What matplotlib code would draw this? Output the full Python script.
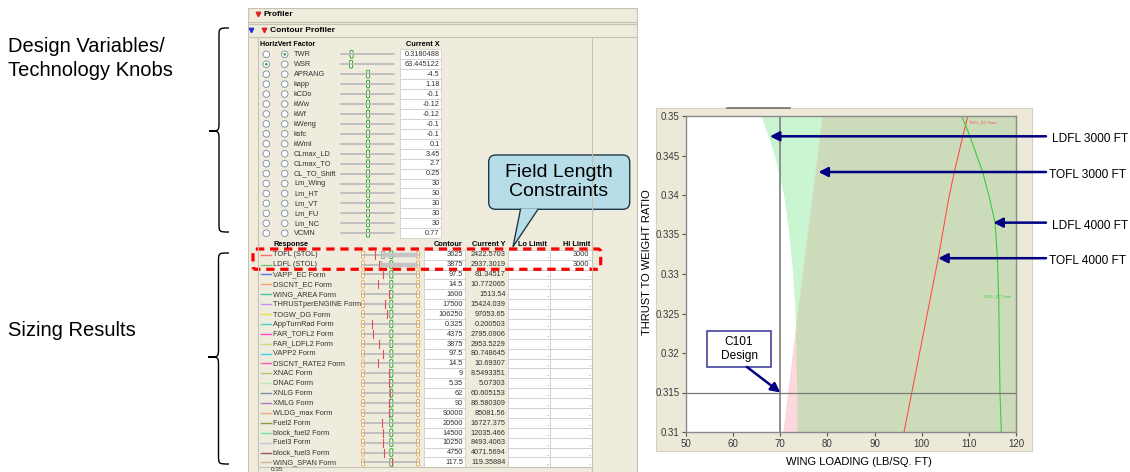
import matplotlib.pyplot as plt
import matplotlib.patches as mpatches
from matplotlib.path import Path
import numpy as np

plt.rcParams['font.family'] = ['Liberation Sans', 'DejaVu Sans']

# ---------------- data ----------------
factor_names = ['TWR', 'WSR', 'APRANG', 'kapp', 'kCDo', 'kWw', 'kWf', 'kWeng', 'ksfc',
                'kWml', 'CLmax_LD', 'CLmax_TO', 'CL_TO_Shift', 'Lm_Wing', 'Lm_HT',
                'Lm_VT', 'Lm_FU', 'Lm_NC', 'VCMN']
factor_values = ['0.3180488', '63.445122', '-4.5', '1.18', '-0.1', '-0.12', '-0.12', '-0.1',
                 '-0.1', '0.1', '3.45', '2.7', '0.25', '30', '30', '30', '30', '30', '0.77']
factor_slider = [0.2, 0.19] + [0.51] * 17   # slider position within range
horiz_factor = 'WSR'
vert_factor = 'TWR'

resp_names = ['TOFL (STOL)', 'LDFL (STOL)', 'VAPP_EC Form', 'DSCNT_EC Form', 'WING_AREA Form',
              'THRUSTperENGINE Form', 'TOGW_DG Form', 'AppTurnRad Form', 'FAR_TOFL2 Form',
              'FAR_LDFL2 Form', 'VAPP2 Form', 'DSCNT_RATE2 Form', 'XNAC Form', 'DNAC Form',
              'XNLG Form', 'XMLG Form', 'WLDG_max Form', 'Fuel2 Form', 'block_fuel2 Form',
              'Fuel3 Form', 'block_fuel3 Form', 'WING_SPAN Form']
resp_contour = ['3625', '3875', '97.5', '14.5', '1600', '17500', '106250', '0.325', '4375',
                '3875', '97.5', '14.5', '9', '5.35', '62', '90', '90000', '20500', '14500',
                '10250', '4750', '117.5']
resp_current = ['2422.5703', '2937.3019', '81.34517', '10.772065', '1513.54', '15424.039',
                '97053.65', '0.200503', '2795.0906', '2953.5229', '80.748645', '10.69307',
                '8.5493351', '5.07303', '60.605153', '86.580309', '85081.56', '16727.375',
                '12035.466', '8493.4063', '4071.5694', '119.35884']
resp_hi = ['3000', '3000'] + [''] * 20
resp_colors = ['#ff6a6a', '#70cc70', '#5a78dd', '#f0a468', '#40c4a4', '#cc8ef0', '#eadc48',
               '#44d2d2', '#ff48cc', '#c4de74', '#44c8f0', '#ff58b4', '#b8c274', '#b4e8b4',
               '#7890a8', '#b476c4', '#f0a488', '#8c9c44', '#74e2a4', '#c8c2d8', '#945474',
               '#d2b494']

wl_ticks = [50, 60, 70, 80, 90, 100, 110, 120]
tw_ticks = [0.31, 0.315, 0.32, 0.325, 0.33, 0.335, 0.34, 0.345, 0.35]

# constraint boundaries (wing loading vs thrust/weight)
cross_tw = 0.3233
ldfl3000_tw = [0.350, 0.3457, 0.3419, 0.3393, 0.3351, 0.3309, 0.3267, 0.3233, 0.310]
ldfl3000_wl = [66.05, 68.5, 70.15, 71.0, 71.9, 72.6, 73.1, 73.35, 73.7]
tofl3000_tw = [0.350, 0.3233, 0.310]
tofl3000_wl = [79.0, 73.35, 70.65]
tofl4000_tw = [0.310, 0.315, 0.332, 0.3393, 0.3429, 0.3474, 0.350]
tofl4000_wl = [96.25, 97.9, 103.5, 105.65, 106.9, 108.7, 109.8]
ldfl4000_tw = [0.310, 0.315, 0.3267, 0.332, 0.3365, 0.3393, 0.3429, 0.3474, 0.350]
ldfl4000_wl = [116.9, 116.6, 116.33, 116.05, 115.56, 114.5, 112.94, 110.25, 108.5]
design_wl, design_tw = 70, 0.315

arrow_labels = ['LDFL 3000 FT', 'TOFL 3000 FT', 'LDFL 4000 FT', 'TOFL 4000 FT']
arrow_wl = [67.8, 78.1, 115.2, 103.5]
arrow_tw = [0.34743, 0.34291, 0.3365, 0.3320]

# ---------------- figure ----------------
W, H = 1130, 472
fig = plt.figure(figsize=(W / 100, H / 100), dpi=100)
bg = fig.add_axes([0, 0, 1, 1], zorder=0)
bg.set_xlim(0, W)
bg.set_ylim(H, 0)
bg.axis('off')

# left annotations
bg.text(8, 47, 'Design Variables/', fontsize=14.5, va='center')
bg.text(8, 70, 'Technology Knobs', fontsize=14.5, va='center')
bg.text(8, 331, 'Sizing Results', fontsize=14.5, va='center')


def brace(a, x_tip, x_end, y0, y1, ym, r=9):
    xm = (x_tip + x_end) / 2
    verts = [(x_end, y0), (xm, y0), (xm, y0), (xm, y0 + r),
             (xm, ym - r), (xm, ym), (xm, ym), (x_tip, ym),
             (xm, ym), (xm, ym), (xm, ym + r),
             (xm, y1 - r), (xm, y1), (xm, y1), (x_end, y1)]
    codes = [Path.MOVETO, Path.CURVE4, Path.CURVE4, Path.CURVE4,
             Path.LINETO, Path.CURVE4, Path.CURVE4, Path.CURVE4,
             Path.CURVE4, Path.CURVE4, Path.CURVE4,
             Path.LINETO, Path.CURVE4, Path.CURVE4, Path.CURVE4]
    a.add_patch(mpatches.PathPatch(Path(verts, codes), fc='none', ec='black', lw=1))


brace(bg, 209, 229, 28, 232, 131)
brace(bg, 208, 229, 253, 464, 357)

# ---------------- profiler panel ----------------
PANEL = '#efecdd'
EDGE = '#c6c3b6'
UI = 5.3
bg.add_patch(mpatches.Rectangle((248, 8), 389, 470, fc=PANEL, ec=EDGE, lw=0.8))
for yy in (22, 24, 37):
    bg.plot([249, 637], [yy, yy], color=EDGE, lw=0.8)
bg.plot([258, 258], [37, 472], color=EDGE, lw=0.8)
bg.plot([592, 592], [37, 472], color=EDGE, lw=0.8)
bg.plot([258, 592], [466.5, 466.5], color=EDGE, lw=0.8)
bg.text(271, 469.5, '0.35', fontsize=4.6, va='center', color='#333')

bg.plot(258, 13.5, marker='v', color='#dd2222', ms=3.2)
bg.text(264, 15, 'Profiler', fontsize=6, weight='bold', va='center')
bg.plot(251, 29.5, marker='v', color='#2233cc', ms=3.2)
bg.plot(264, 29.5, marker='v', color='#dd2222', ms=3.2)
bg.text(270, 30, 'Contour Profiler', fontsize=6, weight='bold', va='center')

# factor header
bg.text(259.5, 45, 'HorizVert Factor', fontsize=5.1, weight='bold', va='center')
bg.text(440, 45, 'Current X', fontsize=UI, weight='bold', va='center', ha='right')

for i, (nm, val, fr) in enumerate(zip(factor_names, factor_values, factor_slider)):
    y = 54.3 + 9.94 * i
    for xc, sel in ((266.3, nm == horiz_factor), (284.7, nm == vert_factor)):
        bg.add_patch(mpatches.Circle((xc, y), 3.3, fc='white', ec='#7a8aa0', lw=0.6))
        if sel:
            bg.add_patch(mpatches.Circle((xc, y), 1.3, fc='#2ea82e', ec='none'))
    bg.text(294, y + 0.3, nm, fontsize=UI, va='center', color='#333')
    bg.plot([341, 394], [y, y], color='#b8b8b8', lw=1.2, solid_capstyle='round')
    hx = 341 + fr * 53
    bg.add_patch(mpatches.FancyBboxPatch((hx - 1.5, y - 3.8), 3, 7.6,
                                         boxstyle='round,pad=0,rounding_size=1',
                                         fc='white', ec='#2ea82e', lw=0.7))
    bg.add_patch(mpatches.Rectangle((400.3, y - 4.97), 41, 9.94, fc='white', ec='#c8c8c8', lw=0.5))
    bg.text(439.5, y + 0.3, val, fontsize=UI, va='center', ha='right', color='#333')

# response header
ry0 = 245
bg.text(273, ry0, 'Response', fontsize=UI, weight='bold', va='center')
bg.text(463, ry0, 'Contour', fontsize=UI, weight='bold', va='center', ha='right')
bg.text(505, ry0, 'Current Y', fontsize=UI, weight='bold', va='center', ha='right')
bg.text(547, ry0, 'Lo Limit', fontsize=UI, weight='bold', va='center', ha='right')
bg.text(590, ry0, 'Hi Limit', fontsize=UI, weight='bold', va='center', ha='right')

t0, t1, hx = 363, 418, 391.3
for i, (nm, c, cur, hi, col) in enumerate(zip(resp_names, resp_contour, resp_current,
                                               resp_hi, resp_colors)):
    y = 254.7 + 9.89 * i
    bg.plot([260.7, 270.7], [y, y], color=col, lw=1.0)
    bg.text(273, y + 0.3, nm, fontsize=UI, va='center', color='#333')
    bg.plot([t0, t1], [y, y], color='#b8b8b8', lw=1.2)
    if hi:
        lx = hx + (float(hi) / float(c) - 1) * 50
        bg.plot([lx, t1], [y, y], color='#c4c4c4', lw=3.2, solid_capstyle='butt')
        bg.add_patch(mpatches.Rectangle((lx - 1.4, y - 3.6), 2.8, 7.2, fc='#e4e4e4',
                                        ec='#909090', lw=0.5))
    for ex in (t0, t1):
        bg.add_patch(mpatches.FancyBboxPatch((ex - 1.4, y - 3.6), 2.8, 7.2,
                                             boxstyle='round,pad=0,rounding_size=1',
                                             fc='white', ec='#e0a040', lw=0.6))
    bg.add_patch(mpatches.FancyBboxPatch((hx - 1.5, y - 3.8), 3, 7.6,
                                         boxstyle='round,pad=0,rounding_size=1',
                                         fc='white', ec='#2ea82e', lw=0.7))
    rx = np.clip(hx + (float(cur) / float(c) - 1) * 50, t0 + 2, t1 - 2)
    bg.plot([rx, rx], [y - 4, y + 4], color='#e05050', lw=0.8)
    bg.add_patch(mpatches.Rectangle((423.7, y - 4.95), 41, 9.89, fc='white', ec='#c8c8c8', lw=0.5))
    bg.text(463, y + 0.3, c, fontsize=UI, va='center', ha='right', color='#333')
    bg.text(505.5, y + 0.3, cur, fontsize=UI, va='center', ha='right', color='#333')
    for cx0 in (508.3, 550):
        bg.add_patch(mpatches.Rectangle((cx0, y - 4.95), 41.5, 9.89, fc='white',
                                        ec='#c8c8c8', lw=0.5))
        bg.text(cx0 + 40, y + 1.5, '.', fontsize=UI, va='center', ha='right', color='#555')
    if hi:
        bg.text(589.5, y + 0.3, hi, fontsize=UI, va='center', ha='right', color='#333')

# highlight box around the field length responses
bg.add_patch(mpatches.FancyBboxPatch((253, 249), 347.7, 20.3,
                                     boxstyle='round,pad=0,rounding_size=3',
                                     fc='none', ec='#ff0000', lw=2.3, ls=(0, (2.6, 1.8))))

# callout
CALL = '#b7dde8'
bg.add_patch(mpatches.FancyBboxPatch((488.7, 155), 141, 54.3,
                                     boxstyle='round,pad=0,rounding_size=7',
                                     fc=CALL, ec='#1f3a48', lw=1.0))
bg.add_patch(mpatches.Polygon([(520.5, 208.6), (538, 208.6), (513, 246.7)],
                              closed=True, fc=CALL, ec='none'))
bg.plot([520.5, 513, 538], [209.3, 246.7, 209.3], color='#1f3a48', lw=1.0)
bg.text(559, 182, 'Field Length\nConstraints', fontsize=14, ha='center', va='center',
        linespacing=1.15)

# ---------------- contour plot ----------------
bg.add_patch(mpatches.Rectangle((656, 108), 376, 343, fc='#ece9d9', ec='#d4d1c4', lw=0.8))
bg.plot([727, 790], [107.5, 107.5], color='#707070', lw=1.2)

ax = fig.add_axes([686 / W, 1 - 432 / H, 330 / W, 316 / H], zorder=1)
ax.set_xlim(50, 120)
ax.set_ylim(0.31, 0.35)
ax.set_facecolor('white')

lw_ = np.array(ldfl3000_wl)
lt_ = np.array(ldfl3000_tw)
tw_ = np.array(tofl3000_wl)
tt_ = np.array(tofl3000_tw)
ax.fill(np.r_[lw_, 120, 120], np.r_[lt_, 0.31, 0.35], color='#c9f5d1', lw=0)
ax.fill(np.r_[tw_, 120, 120], np.r_[tt_, 0.31, 0.35], color='#fcd8de', lw=0)
ol_x = np.r_[tw_[tt_ >= cross_tw], lw_[lt_ < cross_tw], 120, 120]
ol_y = np.r_[tt_[tt_ >= cross_tw], lt_[lt_ < cross_tw], 0.31, 0.35]
ax.fill(ol_x, ol_y, color='#ccdcba', lw=0)

ax.plot(tofl4000_wl, tofl4000_tw, color='#ff4e4e', lw=0.8)
ax.plot(ldfl4000_wl, ldfl4000_tw, color='#3ccc3c', lw=0.8)
ax.text(110.1, 0.3492, 'TOFL_EC Form', fontsize=2.8, color='#ff4e4e', va='center')
ax.text(113.3, 0.3272, 'LDFL_EC Form', fontsize=2.8, color='#3ccc3c', va='center')

ax.axvline(design_wl, color='#8e8e8e', lw=1.4)
ax.axhline(design_tw, color='#7a7a7a', lw=0.9)

ax.set_xticks(wl_ticks)
ax.set_yticks(tw_ticks)
ax.set_xticklabels([f'{v:g}' for v in wl_ticks])
ax.set_yticklabels([f'{v:g}' for v in tw_ticks])
ax.tick_params(labelsize=7, labelcolor='#3a3a3a', color='#555555', length=3, width=0.8)
ax.tick_params(axis='x', pad=2)
ax.tick_params(axis='y', pad=1.5)
for s in ax.spines.values():
    s.set_color('#8a8a8a')
    s.set_linewidth(1.0)

# ---------------- overlay annotations ----------------
ov = fig.add_axes([0, 0, 1, 1], zorder=5)
ov.set_xlim(0, W)
ov.set_ylim(H, 0)
ov.axis('off')
ov.patch.set_alpha(0)

NAVY = '#000080'
label_x = [1051.5, 1049, 1051.5, 1049]
for lab, wl, tw, lx in zip(arrow_labels, arrow_wl, arrow_tw, label_x):
    ypix = H - ax.transData.transform((wl, tw))[1]
    ov.annotate('', xy=(wl, tw), xycoords=ax.transData, xytext=(1046, ypix),
                textcoords='data',
                arrowprops=dict(arrowstyle='-|>,head_length=0.55,head_width=0.28',
                                color=NAVY, lw=1.8, shrinkA=0, shrinkB=0))
    ov.text(lx, ypix + 3, lab, fontsize=8.6, va='center', ha='left')

ov.add_patch(mpatches.Rectangle((706.7, 331), 64.6, 35.7, fc='white', ec='#333399', lw=1.1))
ov.text(739, 349, 'C101\nDesign', fontsize=8.6, ha='center', va='center', linespacing=1.25)
ov.annotate('', xy=(design_wl, design_tw), xycoords=ax.transData, xytext=(747, 367),
            textcoords='data',
            arrowprops=dict(arrowstyle='-|>,head_length=0.55,head_width=0.28',
                            color=NAVY, lw=1.8, shrinkA=0, shrinkB=0))

ov.text(859, 462, 'WING LOADING (LB/SQ. FT)', fontsize=8, ha='center', va='center')
ov.text(647, 262, 'THRUST TO WEIGHT RATIO', fontsize=8, ha='center', va='center',
        rotation=90)

fig.savefig('out.png', dpi=100)
